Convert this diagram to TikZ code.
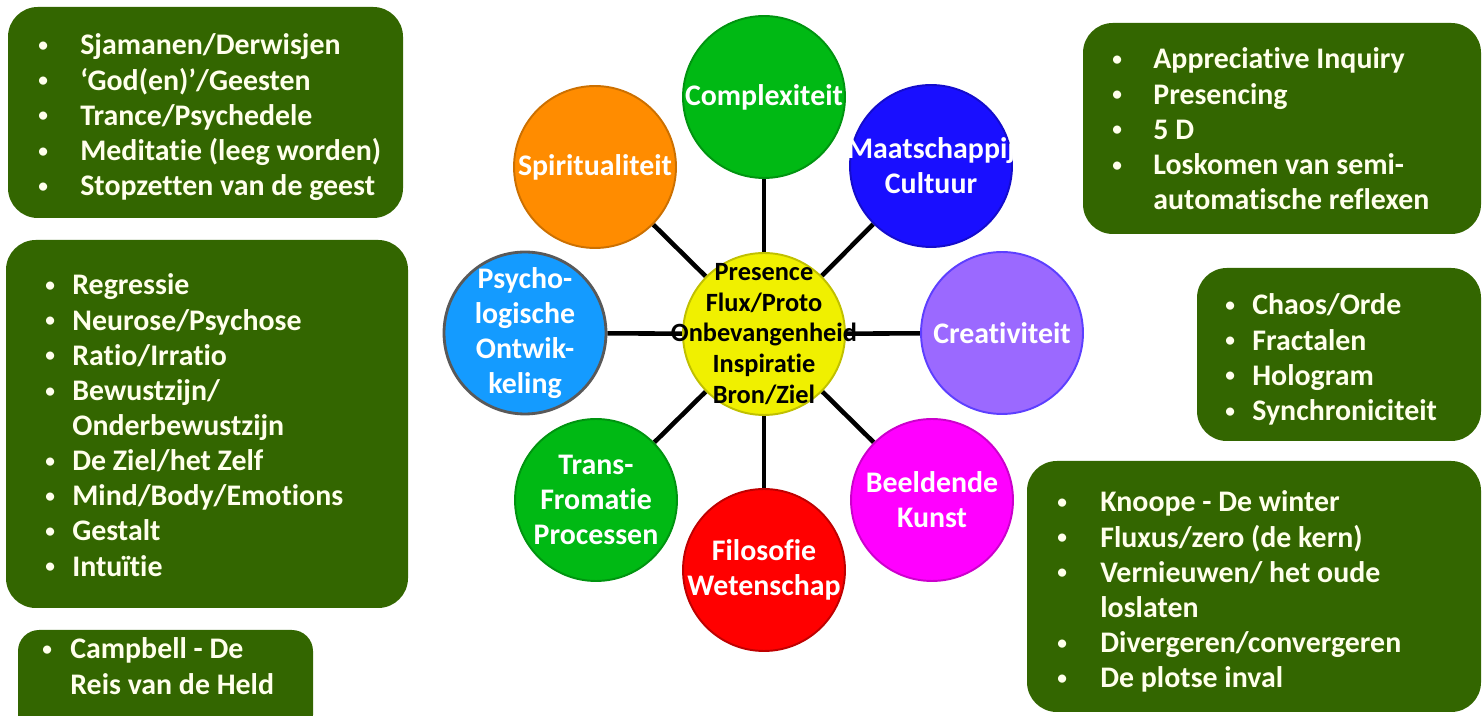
\documentclass[tikz,border=0pt]{standalone}
\usepackage{fontspec}
\setmainfont{Carlito}[Ligatures=NoCommon]
\usetikzlibrary{backgrounds}

\definecolor{boxgreen}{RGB}{51,102,0}
\definecolor{boxtext}{RGB}{255,255,236}
\definecolor{coreyellow}{RGB}{240,240,0}
\definecolor{leafgreen}{RGB}{0,185,20}
\definecolor{spiritorange}{RGB}{255,140,0}
\definecolor{cultblue}{RGB}{25,15,255}
\definecolor{psyblue}{RGB}{20,155,255}
\definecolor{creapurple}{RGB}{155,105,255}
\definecolor{filored}{RGB}{255,0,0}
\definecolor{artmagenta}{RGB}{255,0,255}

\tikzset{
  greenbox/.style={fill=boxgreen, rounded corners=17pt},
  boxtxt/.style={anchor=base west, inner sep=0pt, text=boxtext,
    font=\bfseries\fontsize{17}{20}\selectfont},
  petal/.style={circle, minimum size=3.24cm, inner sep=0pt, line width=1.1pt},
  petaltxt/.style={text=white, align=center, inner sep=0pt,
    font=\bfseries\fontsize{17}{20}\selectfont},
  spoke/.style={line width=2.6pt, black},
}

\newcommand{\bul}{\raisebox{1.9pt}{\fontsize{11}{11}\selectfont\textbullet}}
\newcommand{\bulrows}[2]{\begin{tabular}[t]{@{}p{#1}@{}l@{}}#2\end{tabular}}

\begin{document}
\begin{tikzpicture}[x=0.02cm, y=0.02cm]
  \useasboundingbox (0,0) rectangle (1483,716);

  % ====== LEFT BOXES ======
  \fill[greenbox] (8,498) rectangle (403,709);
  \node[boxtxt] (spiritlist) at (38,661) {\bulrows{8.4mm}{%
    \bul & Sjamanen/Derwisjen\\
    \bul & ‘God(en)’/Geesten\\
    \bul & Trance/Psychedele\\
    \bul & Meditatie (leeg worden)\\
    \bul & Stopzetten van de geest}};

  \fill[greenbox] (6,108) rectangle (408,476);
  \node[boxtxt] (psylist) at (45,421) {\bulrows{5.4mm}{%
    \bul & Regressie\\
    \bul & Neurose/Psychose\\
    \bul & Ratio/Irratio\\
    \bul & Bewustzijn/\\
         & Onderbewustzijn\\
    \bul & De Ziel/het Zelf\\
    \bul & Mind/Body/Emotions\\
    \bul & Gestalt\\
    \bul & Intuïtie}};

  \fill[greenbox, rounded corners=12pt] (18,-20) rectangle (313,86);
  \node[boxtxt] (translist) at (42,57) {\bulrows{5.6mm}{%
    \bul & Campbell - De\\
         & Reis van de Held}};

  % ====== RIGHT BOXES ======
  \fill[greenbox] (1083,482) rectangle (1481,693);
  \node[boxtxt] (cultlist) at (1112,647) {\bulrows{8.2mm}{%
    \bul & Appreciative Inquiry\\
    \bul & Presencing\\
    \bul & 5 D\\
    \bul & Loskomen van semi-\\
         & automatische reflexen}};

  \fill[greenbox] (1197,275) rectangle (1481,448);
  \node[boxtxt] (crealist) at (1225,401) {\bulrows{5.4mm}{%
    \bul & Chaos/Orde\\
    \bul & Fractalen\\
    \bul & Hologram\\
    \bul & Synchroniciteit}};

  \fill[greenbox] (1027,4) rectangle (1481,255);
  \node[boxtxt] (artlist) at (1057,204) {\bulrows{8.6mm}{%
    \bul & Knoope - De winter\\
    \bul & Fluxus/zero (de kern)\\
    \bul & Vernieuwen/ het oude\\
         & loslaten\\
    \bul & Divergeren/convergeren\\
    \bul & De plotse inval}};

  % ====== FLOWER ======
  \node[petal, fill=coreyellow, draw=coreyellow!80!black,
    label={[petaltxt, text=black, font=\bfseries\fontsize{15}{17.4}\selectfont]center:
      Presence\\Flux/Proto\\Onbevangenheid\\Inspiratie\\Bron/Ziel}] (core) at (764,382) {};

  \node[petal, fill=leafgreen, draw=leafgreen!80!black,
    label={[petaltxt]center:Complexiteit}] (compl) at (764,619) {};
  \node[petal, fill=spiritorange, draw=spiritorange!80!black,
    label={[petaltxt]center:Spiritualiteit}] (spirit) at (595,549) {};
  \node[petal, fill=cultblue, draw=cultblue!80!black,
    label={[petaltxt]center:Maatschappij\\Cultuur}] (cult) at (931,550) {};
  \node[petal, fill=psyblue, draw=black!65, line width=1.6pt,
    label={[petaltxt]center:Psycho-\\logische\\Ontwik-\\keling}] (psy) at (525,383) {};
  \node[petal, fill=creapurple, draw=creapurple!60!blue,
    label={[petaltxt]center:Creativiteit}] (crea) at (1002,383) {};
  \node[petal, fill=leafgreen, draw=leafgreen!80!black,
    label={[petaltxt]center:Trans-\\Fromatie\\Processen}] (trans) at (596,216) {};
  \node[petal, fill=filored, draw=filored!75!black,
    label={[petaltxt]center:Filosofie\\Wetenschap}] (filo) at (764,146) {};
  \node[petal, fill=artmagenta, draw=artmagenta!80!black,
    label={[petaltxt]center:Beeldende\\Kunst}] (art) at (932,216) {};

  % Spokes
  \begin{scope}[on background layer]
    \foreach \leaf in {compl,spirit,cult,psy,crea,trans,filo,art} {
      \draw[spoke] (core) -- (\leaf);
    }
  \end{scope}

\end{tikzpicture}
\end{document}
